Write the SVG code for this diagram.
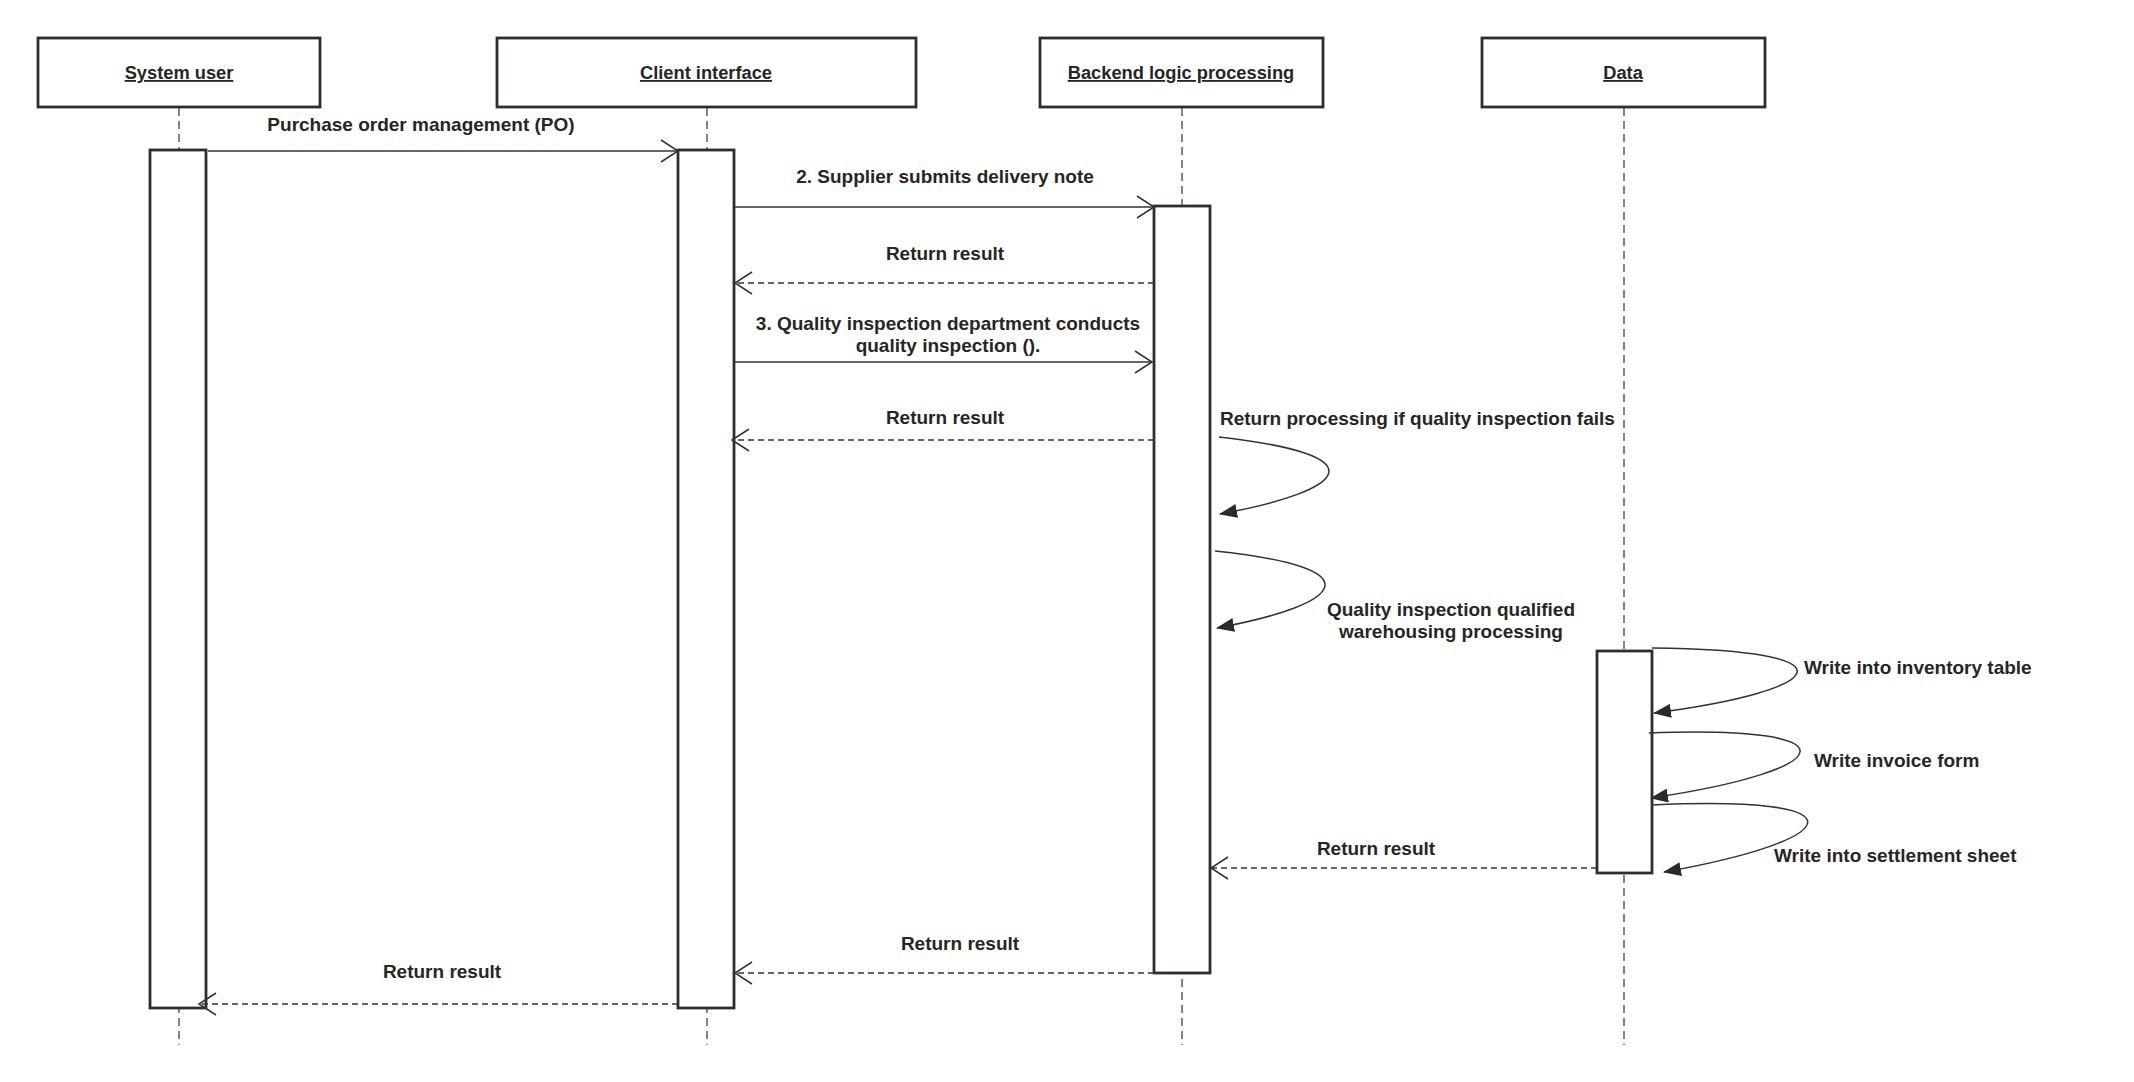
<svg xmlns="http://www.w3.org/2000/svg" width="2134" height="1082" viewBox="0 0 2134 1082">
<defs>
<style>
.box{fill:#fff;stroke:#2a2f34;stroke-width:2.8}
.act{fill:#fff;stroke:#2a2f34;stroke-width:2.8}
.life{stroke:#333;stroke-width:1.2;stroke-dasharray:8 5;fill:none}
.msg{stroke:#333;stroke-width:1.5;fill:none}
.ret{stroke:#333;stroke-width:1.5;fill:none;stroke-dasharray:6 4}
.loop{stroke:#333;stroke-width:1.5;fill:none}
.title{font-family:"Liberation Sans",Arial,sans-serif;font-weight:bold;font-size:18.3px;fill:#262626;text-anchor:middle;text-decoration:underline}
.lbl{font-family:"Liberation Sans",Arial,sans-serif;font-weight:bold;font-size:19px;fill:#262626}
.c{text-anchor:middle}
</style>
<marker id="open" viewBox="0 0 20 24" refX="18" refY="12" markerWidth="20" markerHeight="24" markerUnits="userSpaceOnUse" orient="auto">
<path d="M1,1 L18,12 L1,23" fill="none" stroke="#333" stroke-width="1.5"/>
</marker>
<marker id="fill" viewBox="0 0 18 14" refX="17" refY="7" markerWidth="18" markerHeight="14" markerUnits="userSpaceOnUse" orient="auto">
<path d="M0,0 L18,7 L0,14 z" fill="#2a2a2a"/>
</marker>
</defs>
<rect width="2134" height="1082" fill="#fff"/>

<g id="lifelines">
<line class="life" x1="179" y1="108" x2="179" y2="1045"/>
<line class="life" x1="707" y1="108" x2="707" y2="1045"/>
<line class="life" x1="1182" y1="108" x2="1182" y2="1045"/>
<line class="life" x1="1624" y1="108" x2="1624" y2="1045"/>
</g>

<g id="node-system-user">
<rect class="box" x="38" y="38" width="282" height="69"/>
<text class="title" x="179" y="79">System user</text>
<rect class="act" x="150" y="150" width="56" height="858"/>
</g>
<g id="node-client-interface">
<rect class="box" x="497" y="38" width="419" height="69"/>
<text class="title" x="706" y="79">Client interface</text>
<rect class="act" x="678" y="150" width="56" height="858"/>
</g>
<g id="node-backend">
<rect class="box" x="1040" y="38" width="283" height="69"/>
<text class="title" x="1181" y="79">Backend logic processing</text>
<rect class="act" x="1154" y="206" width="56" height="767"/>
</g>
<g id="node-data">
<rect class="box" x="1482" y="38" width="283" height="69"/>
<text class="title" x="1623" y="79">Data</text>
<rect class="act" x="1597" y="651" width="55" height="222"/>
</g>

<g id="connectors">
<line class="msg" x1="208" y1="151" x2="678" y2="151" marker-end="url(#open)"/>
<line class="msg" x1="734" y1="207" x2="1154" y2="207" marker-end="url(#open)"/>
<line class="ret" x1="1154" y1="283" x2="735" y2="283" marker-end="url(#open)"/>
<line class="msg" x1="734" y1="362" x2="1152" y2="362" marker-end="url(#open)"/>
<line class="ret" x1="1154" y1="440" x2="732" y2="440" marker-end="url(#open)"/>
<path class="loop" d="M1219,437 C1380,455 1350,490 1220,514" marker-end="url(#fill)"/>
<path class="loop" d="M1215,551 C1376,568 1346,604 1217,628" marker-end="url(#fill)"/>
<path class="loop" d="M1652,648 C1860,650 1830,690 1654,713" marker-end="url(#fill)"/>
<path class="loop" d="M1649,733 C1860,725 1840,770 1651,798" marker-end="url(#fill)"/>
<path class="loop" d="M1652,805 C1870,795 1845,840 1664,872" marker-end="url(#fill)"/>
<line class="ret" x1="1597" y1="868" x2="1211" y2="868" marker-end="url(#open)"/>
<line class="ret" x1="1154" y1="973" x2="735" y2="973" marker-end="url(#open)"/>
<line class="ret" x1="678" y1="1004" x2="199" y2="1004" marker-end="url(#open)"/>
</g>

<g id="labels">
<text class="lbl c" x="421" y="131">Purchase order management (PO)</text>
<text class="lbl c" x="945" y="183">2. Supplier submits delivery note</text>
<text class="lbl c" x="945" y="260">Return result</text>
<text class="lbl c" x="948" y="330">3. Quality inspection department conducts</text>
<text class="lbl c" x="948" y="352">quality inspection ().</text>
<text class="lbl c" x="945" y="424">Return result</text>
<text class="lbl" x="1220" y="425">Return processing if quality inspection fails</text>
<text class="lbl c" x="1451" y="616">Quality inspection qualified</text>
<text class="lbl c" x="1451" y="638">warehousing processing</text>
<text class="lbl" x="1804" y="674">Write into inventory table</text>
<text class="lbl" x="1814" y="767">Write invoice form</text>
<text class="lbl" x="1774" y="862">Write into settlement sheet</text>
<text class="lbl c" x="1376" y="855">Return result</text>
<text class="lbl c" x="960" y="950">Return result</text>
<text class="lbl c" x="442" y="978">Return result</text>
</g>
</svg>
